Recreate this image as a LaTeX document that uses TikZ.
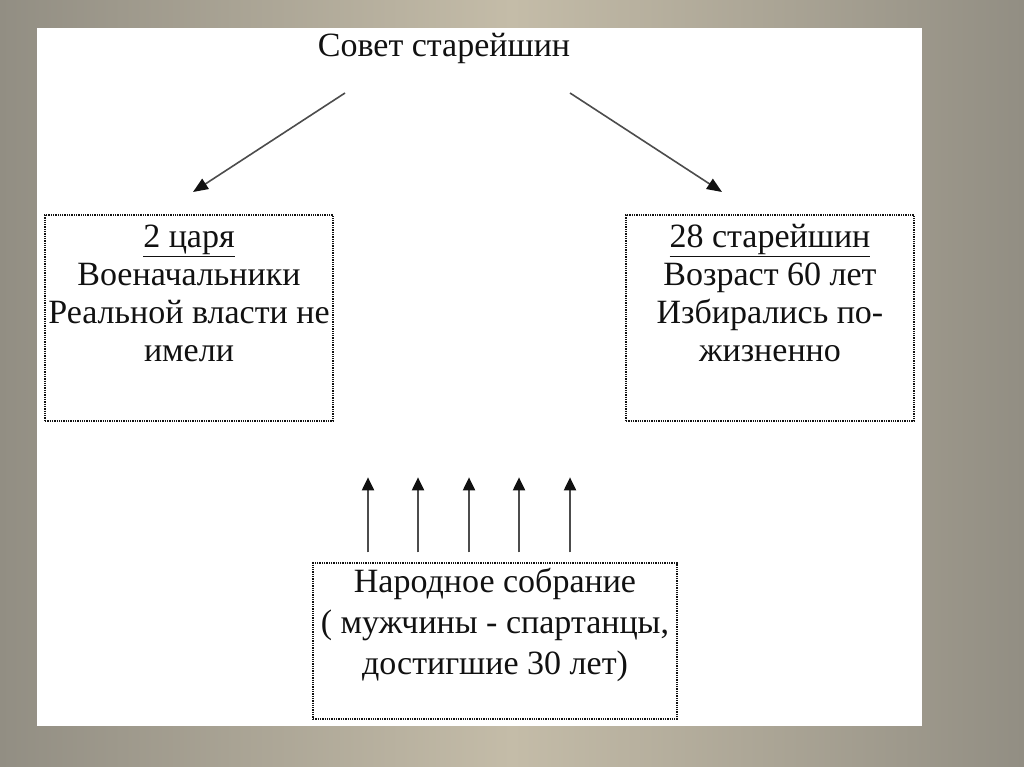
\documentclass[tikz,border=0pt]{standalone}
\usepackage{fontspec}
\setmainfont{Liberation Serif}
\usetikzlibrary{positioning,arrows.meta}
\definecolor{frame}{HTML}{928E83}
\definecolor{framelight}{HTML}{C4BCA8}
\definecolor{ink}{HTML}{111111}

\begin{document}
\begin{tikzpicture}[x=1pt, y=-1pt,
    txt/.style={text=ink, font=\fontsize{34}{38}\selectfont},
    box/.style={txt, draw=ink, densely dotted, line width=1.3pt, align=center, inner sep=0pt},
    flow/.style={-{Triangle[length=13pt,width=12pt,color=ink]}, draw=ink!75, line width=2pt},
    slant/.style={flow, line width=1.6pt, -{Triangle[length=15pt,width=12pt,color=ink]}},
  ]
  \useasboundingbox (0,0) rectangle (1024,767);
  % grey slide round the white sheet
  \shade[left color=frame, right color=frame, middle color=framelight] (0,0) rectangle (1024,767);
  \fill[white] (37,28) rectangle (922,726);

  \node[txt]                                          (council)  at (444,48)  {Совет старейшин};
  \node[box, minimum width=288, minimum height=206]   (kings)    at (189,318) {\underline{2 царя}\\Военачальники\\Реальной власти не\\имели\\\strut};
  \node[box, minimum width=288, minimum height=206]   (elders)   at (770,318) {\underline{28 старейшин}\\Возраст 60 лет\\Избирались по-\\жизненно\\\strut};
  \node[box, minimum width=364, minimum height=156,
        font=\fontsize{34}{41}\selectfont]            (assembly) at (495,641) {Народное собрание\\( мужчины - спартанцы,\\достигшие 30 лет)\\[-14pt]\strut};

  \draw[slant] ([shift={(-99,45)}]council.center) -- ([shift={(4,-126)}]kings.center);
  \draw[slant] ([shift={(126,45)}]council.center) -- ([shift={(-48,-126)}]elders.center);
  % the people send their votes up to both bodies
  \foreach \dx in {-127,-77,-26,24,75}
    \draw[flow] ([shift={(\dx,-10)}]assembly.north) -- ++(0,-75);
\end{tikzpicture}
\end{document}
